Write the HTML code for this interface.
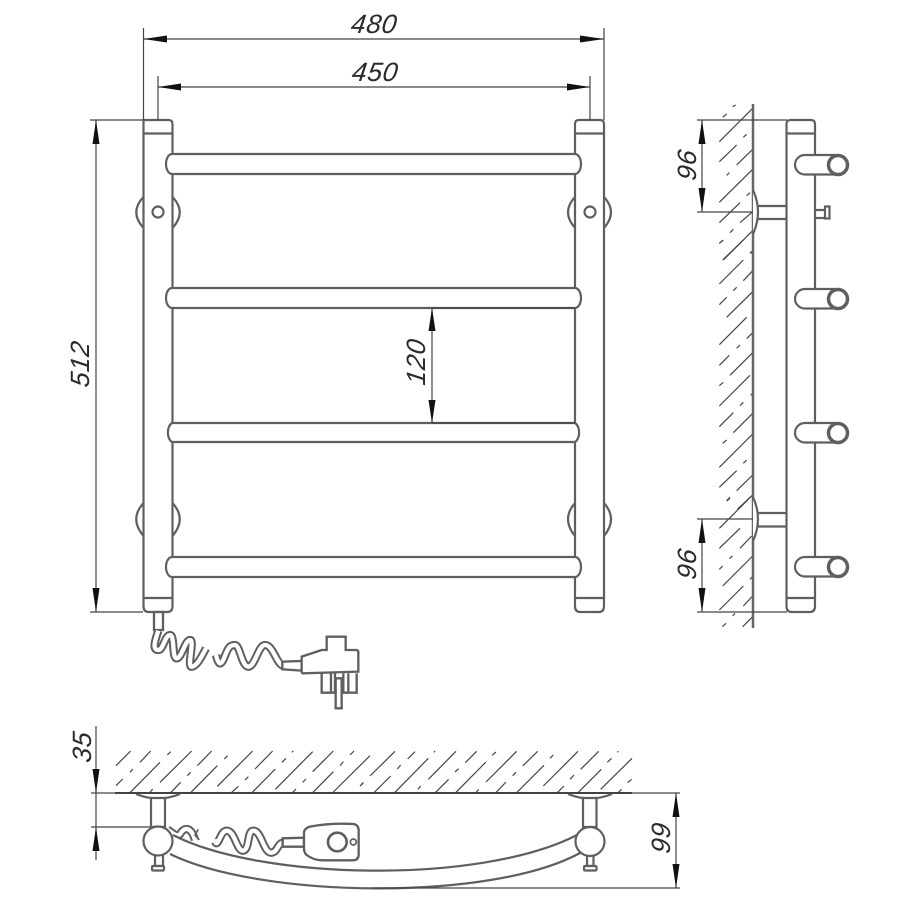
<!DOCTYPE html>
<html>
<head>
<meta charset="utf-8">
<style>
html,body{margin:0;padding:0;background:#fff;width:902px;height:901px;overflow:hidden}
svg{display:block}
text{font-family:"Liberation Sans",sans-serif;font-style:italic;font-size:26.5px;fill:#2a2a2a;letter-spacing:.6px}
.p{fill:none;stroke:#5f5f5f;stroke-width:2.2}
.w{fill:#fff;stroke:#5f5f5f;stroke-width:2.2}
.d{fill:none;stroke:#444;stroke-width:1.2}
.h{fill:none;stroke:#444;stroke-width:1.2}
.tube1{fill:none;stroke:#5f5f5f;stroke-linecap:butt;stroke-linejoin:round;stroke-width:25}
.tube2{fill:none;stroke:#fff;stroke-linecap:butt;stroke-linejoin:round;stroke-width:13}
.a{fill:#111;stroke:none}
</style>
</head>
<body>
<svg width="902" height="901" viewBox="0 0 902 901" xmlns="http://www.w3.org/2000/svg">
<rect width="902" height="901" fill="#fff"/>

<!-- FRONT VIEW flanges -->
<path class="p" d="M143.5 197Q129 212 143.5 228M172.5 197Q187 212 172.5 228M575 197Q561 212 575 228M604 197Q618 212 604 228"/>
<path class="p" d="M143.5 503Q129 519 143.5 536M172.5 503Q187 519 172.5 536M575 503Q561 519 575 536M604 503Q618 519 604 536"/>

<!-- Rails -->
<path class="w" d="M143.5 120H168.500Q172.500 120 172.500 124V606Q172.500 612 167.500 612H148.500Q143.500 612 143.500 606Z"/>
<path class="w" d="M575 124Q575 120 579 120H600Q604 120 604 124V606Q604 612 599 612H580Q575 612 575 606Z"/>
<path class="p" d="M143.500 133.500H172.500M575 133.500H604M143.500 598H172.500M575 598H604"/>
<circle class="w" cx="158" cy="212" r="5.500"/>
<circle class="w" cx="590" cy="212" r="5.500"/>

<!-- Cross pipes -->
<path class="w" d="M172 154H575A6 10 0 0 1 575 174H172A6 10 0 0 1 172 154Z"/>
<path class="w" d="M172 288H575A6 10 0 0 1 575 308H172A6 10 0 0 1 172 288Z"/>
<path class="w" d="M172 423H575A6 10 0 0 1 575 442H172A6 10 0 0 1 172 423Z"/>
<path class="w" d="M172 557H575A6 10 0 0 1 575 577H172A6 10 0 0 1 172 557Z"/>

<!-- Dimensions front -->
<path class="d" d="M143.500 28V120M604 28V120M158 76V120M590 76V120M90 120H143M90 612H143M143.500 39H604M158 87H590M96 120V612M432 308H575M432 423H575M432 308V423"/>
<path class="a" d="M143.500 39L167 35.500V42.500ZM604 39L580 35.500V42.500ZM158 87L181 83.500V90.500ZM590 87L567 83.500V90.500ZM96 120L92.500 144H99.500ZM96 612L92.500 588H99.500ZM432 308L428.500 331H435.500ZM432 423L428.500 400H435.500Z"/>
<text transform="translate(350,33) skewX(-8)">480</text>
<text transform="translate(351,81) skewX(-8)">450</text>
<text transform="translate(89,365) rotate(-90) skewX(-8)" text-anchor="middle">512</text>
<text transform="translate(425,363) rotate(-90) skewX(-8)" text-anchor="middle">120</text>

<!-- Cord front -->
<g transform="translate(130,600) scale(.33333)">
 <rect x="72" y="36" width="27" height="54" fill="#fff" stroke="#5f5f5f" stroke-width="7"/>
 <path class="tube1" d="M85 92C72 130 68 150 85 150C100 150 105 105 120 105C135 105 125 175 140 175C155 175 165 120 180 120C195 120 170 200 185 200C200 200 215 170 228 145"/>
 <path class="tube2" d="M85 92C72 130 68 150 85 150C100 150 105 105 120 105C135 105 125 175 140 175C155 175 165 120 180 120C195 120 170 200 185 200C200 200 215 170 228 145"/>
 <path class="tube1" d="M258 165C265 195 272 198 282 175C295 140 300 135 315 135C330 135 335 200 355 200C375 200 385 135 405 135C430 135 440 195 460 197"/>
 <path class="tube2" d="M258 165C265 195 272 198 282 175C295 140 300 135 315 135C330 135 335 200 355 200C375 200 385 135 405 135C430 135 440 195 460 197"/>
 <path d="M457 185L515 183V212L457 208Z" fill="#fff" stroke="#5f5f5f" stroke-width="7"/>
 <path d="M575 220V278H680V220M603 220V278M615 220V278M640 220V278M655 220V278" fill="#fff" stroke="#5f5f5f" stroke-width="7"/>
 <path d="M617 235V325H635V235Z" fill="#fff" stroke="#5f5f5f" stroke-width="7"/>
 <path d="M515 170L575 150H590V110H647V150H678Q685 150 685 157V215L520 220Q515 220 515 215Z" fill="#fff" stroke="#5f5f5f" stroke-width="7"/>
</g>

<!-- SIDE VIEW -->
<g transform="translate(700,240) scale(.33333)" class="h" style="stroke-width:3.600">
<path d="M130 0L68 60M130 60L58 132M158 92L130 122M158 155L80 232M140 232L58 314M158 278L140 296M88 346L58 376M158 338L90 406M150 406L58 498M100 518L58 560M158 520L100 578M158 582L58 682M110 692L58 742M158 705L110 752M158 765L112 808M70 0L58 10M158 32L152 40M110 142L100 152M80 172L58 194M120 315L110 325M70 427L58 437M158 460L152 466M130 487L120 497M80 600L68 610M140 660L130 670M90 772L80 782"/>
</g>
<g transform="translate(670,100) scale(.33333)" class="h" style="stroke-width:3.600">
<path d="M248 25L148 125M200 135L148 185M248 148L200 195M248 208L148 307M210 308L148 368M248 335L210 368M248 392L160 480M197 15L188 20M170 42L158 52M230 103L220 112M178 218L170 226M240 278L230 287M190 388L180 398M158 422L148 430M248 452L240 460"/>
</g>
<g transform="translate(670,480) scale(.33333)" class="h" style="stroke-width:3.600">
<path d="M248 45L148 145M210 145L148 205M245 168L210 205M248 228L158 318M220 318L148 390M248 348L220 378M248 410L218 440M195 400L188 408M168 430L157 440M180 55L170 63M187 228L178 236M158 258L148 268M248 290L240 298"/>
</g>
<path d="M753 104V628" fill="none" stroke="#666" stroke-width="2.500"/>
<path class="w" d="M753 190Q763 212 753 234"/>
<path class="w" d="M753 497Q763 519 753 541"/>
<path class="p" d="M758 206H786M758 219H786M758 513H786M758 526.500H786"/>
<path class="p" d="M815 210H825M815 218H825"/>
<rect class="w" x="825" y="206.500" width="4.500" height="12"/>
<path class="w" d="M786.500 124Q786.500 120 790.500 120H811Q815 120 815 124V606Q815 612 810 612H791.500Q786.500 612 786.500 606Z"/>
<path class="p" d="M786.500 133.500H815M786.500 598H815"/>
<g>
<path class="w" d="M805 155H838V174.500H805A10 9.750 0 0 1 805 155Z"/>
<circle cx="838" cy="165" r="9.500" fill="#fff" stroke="#5f5f5f" stroke-width="3.500"/>
<path class="w" d="M805 289H838V308.500H805A10 9.750 0 0 1 805 289Z"/>
<circle cx="838" cy="299" r="9.500" fill="#fff" stroke="#5f5f5f" stroke-width="3.500"/>
<path class="w" d="M805 423H838V442.500H805A10 9.750 0 0 1 805 423Z"/>
<circle cx="838" cy="433" r="9.500" fill="#fff" stroke="#5f5f5f" stroke-width="3.500"/>
<path class="w" d="M805 557H838V576.500H805A10 9.750 0 0 1 805 557Z"/>
<circle cx="838" cy="567" r="9.500" fill="#fff" stroke="#5f5f5f" stroke-width="3.500"/>
</g>
<path class="d" d="M697 120H787M697 212H753M697 519H753M697 612H787M702 120V212M702 519V612"/>
<path class="a" d="M702 120L698.500 144H705.500ZM702 212L698.500 188H705.500ZM702 519L698.500 543H705.500ZM702 612L698.500 588H705.500Z"/>
<text transform="translate(696,166) rotate(-90) skewX(-8)" text-anchor="middle">96</text>
<text transform="translate(696,565) rotate(-90) skewX(-8)" text-anchor="middle">96</text>

<!-- BOTTOM VIEW hatch -->
<g transform="translate(80,725) scale(.33333)" class="h" style="stroke-width:3.600">
<path d="M152 78L108 122M212 78L180 112M272 80L262 90M335 78L240 172M395 78L352 122M443 92L433 102M518 78L412 184M578 78L525 132M640 78L636 82M618 100L606 112M698 80L586 193M760 78L698 140M822 78L810 90M790 110L780 122M870 92L757 204M240 112L148 205M158 132L150 142M128 162L108 182M302 172L270 205M218 192L210 202M412 122L330 205M332 142L322 152M505 155L495 165M475 184L452 205M586 132L514 205M678 162L668 172M648 192L636 205M760 140L696 205M850 172L842 182"/>
</g>
<g transform="translate(360,740) scale(.33333)" class="h" style="stroke-width:3.600">
<path d="M105 34L30 108M165 35L143 57M225 33L222 37M122 75L112 87M10 128L0 138M92 108L40 160M205 55L102 160M288 34L205 118M350 34L316 68M408 36L396 46M296 86L285 96M182 138L174 148M266 118L224 160M378 66L285 160M470 34L378 126M533 34L488 78M580 45L570 55M468 97L458 107M356 148L346 160M438 126L406 160M552 76L468 160M654 34L550 138M716 34L662 88M775 34L772 37M755 55L742 67M642 105L630 118M612 138L590 160M724 88L652 160M816 55L722 148M815 118L803 128M785 148L772 160"/>
</g>
<path d="M91 793H680" fill="none" stroke="#666" stroke-width="1.500"/>
<path d="M115 793H632" fill="none" stroke="#333" stroke-width="1.800"/>

<!-- cord bottom -->
<g transform="translate(80,780) scale(.33333)">
 <path class="tube1" d="M262 148C285 165 295 175 305 155C318 140 335 145 345 180"/>
 <path class="tube2" d="M262 148C285 165 295 175 305 155C318 140 335 145 345 180"/>
 <path d="M355 148L345 165L358 180" fill="none" stroke="#5f5f5f" stroke-width="5"/>
 <path class="tube1" d="M405 185C415 205 420 152 440 152C465 152 470 215 490 212C510 208 500 152 520 152C545 152 550 220 575 218C595 215 590 190 612 187"/>
 <path class="tube2" d="M405 185C415 205 420 152 440 152C465 152 470 215 490 212C510 208 500 152 520 152C545 152 550 220 575 218C595 215 590 190 612 187"/>
 <path d="M608 175L672 173V200L608 200Z" fill="#fff" stroke="#5f5f5f" stroke-width="7"/>
 <path d="M672 160Q672 145 690 140Q750 128 820 132Q835 134 836 150V225Q835 240 820 241H725Q700 240 680 225Q672 218 672 205Z" fill="#fff" stroke="#5f5f5f" stroke-width="7"/>
 <circle cx="772" cy="186" r="28" fill="#fff" stroke="#5f5f5f" stroke-width="8"/>
 <circle cx="820" cy="186" r="9" fill="#fff" stroke="#5f5f5f" stroke-width="5"/>
</g>

<!-- curved pipe -->
<path fill="#fff" stroke="none" d="M173 835C260 880 480 885 577 835L580 853C490 902 260 898 170 854Z"/>
<path class="p" d="M173 835C260 880 480 885 577 835M170 854C260 898 490 902 580 853"/>

<!-- mounts bottom -->
<path class="w" d="M136 794Q158 803 180 794"/>
<path class="w" d="M568 794Q590 803 612 794"/>
<path class="w" d="M151 798H165V827H151Z"/>
<path class="w" d="M583 798H596.500V827H583Z"/>
<path class="w" d="M155 850H163V866H155Z"/>
<rect class="w" x="152" y="866" width="12" height="4.500" rx="1"/>
<path class="w" d="M587 850H593.500V866H587Z"/>
<rect class="w" x="584" y="866" width="12.500" height="4.500" rx="1"/>
<circle class="w" cx="158" cy="841" r="14.500"/>
<circle class="w" cx="590" cy="841.500" r="14.500"/>

<!-- dims bottom -->
<path class="d" d="M91 827H150M96 726V860M676 793V888M373 888H680"/>
<path class="a" d="M96 793L92.500 769H99.500ZM96 827L92.500 851H99.500ZM676 793L672.500 817H679.500ZM676 888L672.500 864H679.500Z"/>
<text transform="translate(91,748) rotate(-90) skewX(-8)" text-anchor="middle">35</text>
<text transform="translate(670,839) rotate(-90) skewX(-8)" text-anchor="middle">99</text>
</svg>
</body>
</html>
